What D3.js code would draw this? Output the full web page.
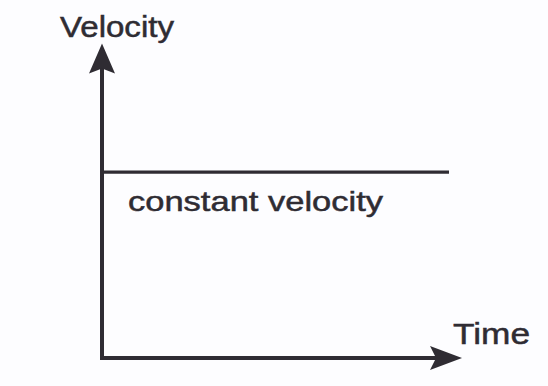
<!DOCTYPE html>
<html>
<head>
<meta charset="utf-8">
<script src="https://cdn.jsdelivr.net/npm/d3@7"></script>
<style>
  body { margin: 0; background: #fdfdff; }
  svg { display: block; }
</style>
</head>
<body>
<div id="chart"></div>
<script>
// data: one constant velocity segment
const times = [0, 10];
const velocities = [6.5, 6.5];
const axisLabels = { y: "Velocity", x: "Time" };
const lineLabel = "constant velocity";

const width = 548, height = 386;
const ink = "#2f2c33";

const svg = d3.select("#chart").append("svg")
    .attr("width", width)
    .attr("height", height);

// scales (axes reach a bit further than the data for the arrows)
const x = d3.scaleLinear().domain([0, 10]).range([102, 449]);
const y = d3.scaleLinear().domain([0, 10]).range([358, 72]);

const xEnd = x(10.375);   // arrow tip of time axis
const yEnd = y(11.0);     // arrow tip of velocity axis

// axes
svg.append("line")
    .attr("x1", x(0)).attr("y1", y(0) + 1.5)
    .attr("x2", x(0)).attr("y2", yEnd + 20)
    .attr("stroke", ink).attr("stroke-width", 4);

svg.append("line")
    .attr("x1", x(0) - 2).attr("y1", y(0))
    .attr("x2", xEnd - 20).attr("y2", y(0))
    .attr("stroke", ink).attr("stroke-width", 4);

// arrow heads
svg.append("path")
    .attr("d", `M${x(0)},${yEnd} L${x(0) + 13},${yEnd + 30} L${x(0)},${yEnd + 25} L${x(0) - 13},${yEnd + 30} Z`)
    .attr("fill", ink);

svg.append("path")
    .attr("d", `M${xEnd},${y(0)} L${xEnd - 32},${y(0) - 12} L${xEnd - 26},${y(0)} L${xEnd - 32},${y(0) + 12} Z`)
    .attr("fill", ink);

// constant velocity line
const line = d3.line()
    .x((d, i) => x(times[i]))
    .y(d => y(d));

svg.append("path")
    .datum(velocities)
    .attr("d", line)
    .attr("fill", "none")
    .attr("stroke", ink)
    .attr("stroke-width", 3.2);

// labels
const font = "Liberation Sans, Arial, sans-serif";

function label(txt, lx, ly, size, len) {
    svg.append("text")
        .attr("x", lx).attr("y", ly)
        .attr("font-family", font).attr("font-size", size)
        .attr("textLength", len).attr("lengthAdjust", "spacingAndGlyphs")
        .attr("fill", ink)
        .attr("stroke", ink).attr("stroke-width", 0.5)
        .text(txt);
}

label(axisLabels.y, 60, 37, 29, 114);
label(axisLabels.x, 453, 344, 30, 77);
label(lineLabel, 128, 211, 28, 255);
</script>
</body>
</html>
